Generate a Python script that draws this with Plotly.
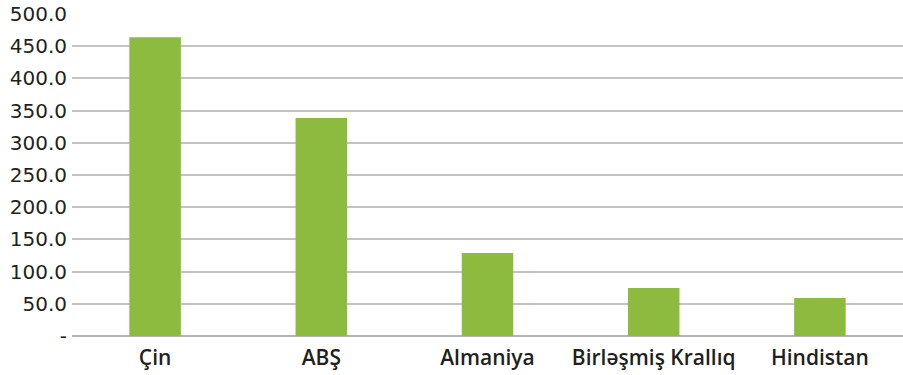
import plotly.graph_objects as go

countries = ["Çin", "ABŞ", "Almaniya", "Birləşmiş Krallıq", "Hindistan"]
values = [464.0, 338.5, 129.0, 74.5, 59.0]
tick_vals = [0, 50, 100, 150, 200, 250, 300, 350, 400, 450, 500]
tick_text = ["-", "50.0", "100.0", "150.0", "200.0", "250.0", "300.0",
             "350.0", "400.0", "450.0", "500.0"]

fig = go.Figure()
fig.add_trace(go.Bar(x=countries, y=values, marker_color="#8cbb3f",
                     marker_line_width=0, width=0.31))

fig.update_layout(
    width=903, height=375,
    margin=dict(l=72, r=0, t=14, b=39),
    paper_bgcolor="white", plot_bgcolor="white",
    showlegend=False,
    font=dict(family="DejaVu Sans, sans-serif", color="#231f20", size=19),
    xaxis=dict(showgrid=False, showline=False, ticks="", automargin=False,
               tickfont=dict(size=21, family="Open Sans, sans-serif", weight=600),
               ticklabelstandoff=7),
    yaxis=dict(range=[0, 500], tickvals=tick_vals, ticktext=tick_text,
               showgrid=True, gridcolor="#c3c3c3", gridwidth=2, automargin=False,
               zeroline=True, zerolinecolor="#b5b5b5", zerolinewidth=2,
               showline=False, ticks="", ticklabelstandoff=4,
               tickfont=dict(size=20)),
)

# drop the page's default body margin and scrollbars so the chart fills the window
fig.write_html(
    "out.html",
    config={"displayModeBar": False},
    post_script=(
        "document.body.style.margin='0';"
        "document.body.style.overflow='hidden';"
        "document.documentElement.style.overflow='hidden';"
    ),
)
